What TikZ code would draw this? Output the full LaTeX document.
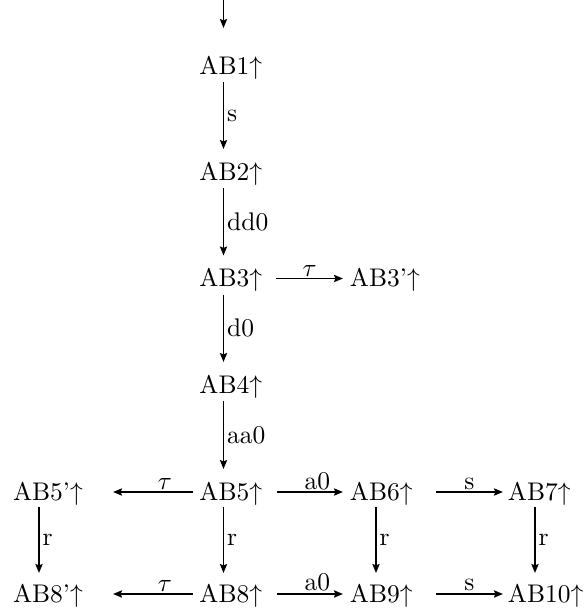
\documentclass[tikz,border=0pt]{standalone}
\usetikzlibrary{arrows.meta}
\begin{document}
\begin{tikzpicture}[x=0.3922pt,y=-0.3922pt,
  lab/.style={inner sep=0pt,outer sep=0pt,anchor=base west},
  arr/.style={line width=0.7pt,-{Stealth[length=3.5pt,width=2.8pt,inset=0.5pt]}},
  arrb/.style={arr,line width=1.1pt},
  tl/.style={above,inner sep=0.6pt},
  vl/.style={right,inner sep=1.1pt}]
\useasboundingbox (0,0) rectangle (588,609);
\coordinate (top) at (223.5,0);
\node[lab] (ab1) at (199.5,74) {AB1$\uparrow$};
\node[lab] (ab2) at (199.5,180) {AB2$\uparrow$};
\node[lab] (ab3) at (199.5,286.5) {AB3$\uparrow$};
\node[lab] (ab3p) at (350,286.5) {AB3'$\uparrow$};
\node[lab] (ab4) at (199.5,393) {AB4$\uparrow$};
\node[lab] (ab5) at (199.5,500) {AB5$\uparrow$};
\node[lab] (ab5p) at (13,500) {AB5'$\uparrow$};
\node[lab] (ab6) at (350,500) {AB6$\uparrow$};
\node[lab] (ab7) at (508,500) {AB7$\uparrow$};
\node[lab] (ab8) at (199.5,602) {AB8$\uparrow$};
\node[lab] (ab8p) at (13,602) {AB8'$\uparrow$};
\node[lab] (ab9) at (350,602) {AB9$\uparrow$};
\node[lab] (ab10) at (508,602) {AB10$\uparrow$};
% vertical
\draw[arr] (top) -- ([shift={(24,-46)}]ab1.base west);
\draw[arr] ([shift={(24,8)}]ab1.base west) -- ([shift={(24,-31)}]ab2.base west) node[midway,vl] {s};
\draw[arr] ([shift={(24,8)}]ab2.base west) -- ([shift={(24,-31)}]ab3.base west) node[midway,vl] {dd0};
\draw[arr] ([shift={(24,8)}]ab3.base west) -- ([shift={(24,-31)}]ab4.base west) node[midway,vl] {d0};
\draw[arr] ([shift={(24,8)}]ab4.base west) -- ([shift={(24,-31)}]ab5.base west) node[midway,vl] {aa0};
\draw[arr] ([shift={(24,7)}]ab5.base west) -- ([shift={(24,-29)}]ab8.base west) node[midway,vl] {r};
\draw[arr] ([shift={(26,7)}]ab5p.base west) -- ([shift={(26,-29)}]ab8p.base west) node[midway,vl] {r};
\draw[arr] ([shift={(26,7)}]ab6.base west) -- ([shift={(26,-29)}]ab9.base west) node[midway,vl] {r};
\draw[arr] ([shift={(27,7)}]ab7.base west) -- ([shift={(27,-29)}]ab10.base west) node[midway,vl] {r};
% horizontal
\draw[arr] ([shift={(77,-8)}]ab3.base west) -- ([shift={(-7,-8)}]ab3p.base west) node[midway,tl] {$\tau$};
\draw[arr] ([shift={(-6.5,-8)}]ab5.base west) -- ([shift={(100,-8)}]ab5p.base west) node[pos=0.35,tl] {$\tau$};
\draw[arr] ([shift={(77.5,-8)}]ab5.base west) -- ([shift={(-7,-8)}]ab6.base west) node[pos=0.61,tl] {a0};
\draw[arr] ([shift={(86,-8)}]ab6.base west) -- ([shift={(-5,-8)}]ab7.base west) node[midway,tl] {s};
\draw[arrb] ([shift={(-6.5,-8)}]ab8.base west) -- ([shift={(100,-8)}]ab8p.base west) node[pos=0.35,tl] {$\tau$};
\draw[arrb] ([shift={(77.5,-8)}]ab8.base west) -- ([shift={(-7,-8)}]ab9.base west) node[pos=0.61,tl] {a0};
\draw[arrb] ([shift={(86,-8)}]ab9.base west) -- ([shift={(-5,-8)}]ab10.base west) node[midway,tl] {s};
\end{tikzpicture}
\end{document}
